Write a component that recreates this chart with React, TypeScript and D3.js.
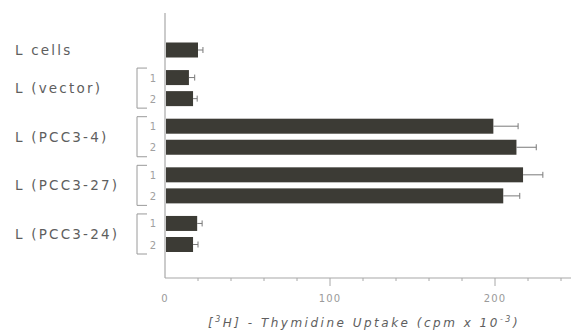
import React, { useRef, useEffect } from 'react';
import * as d3 from 'd3';

// categories (cell lines) and one bar per clone
const groupNames = ['L cells', 'L (vector)', 'L (PCC3-4)', 'L (PCC3-27)', 'L (PCC3-24)'];
const barGroup = [0, 1, 1, 2, 2, 3, 3, 4, 4];
const barClone = ['', '1', '2', '1', '2', '1', '2', '1', '2'];
// [3H]-thymidine uptake, cpm x 10^-3
const uptake = [20, 14.5, 17, 199, 213, 217, 205, 19.5, 17];
const uptakeErr = [3, 3.5, 2.5, 15, 12, 12, 10, 3, 3];
const majorTicks = [0, 100, 200];
const minorTicks = [20, 40, 60, 80, 120, 140, 160, 180, 220, 240];

const W = 571;
const H = 332;
const GAP = 0.31; // extra space between groups, in bar steps

const App = () => {
  const svgRef = useRef<SVGSVGElement>(null);

  useEffect(() => {
    if (!svgRef.current) return;
    const svg = d3.select(svgRef.current);
    svg.selectAll('*').remove();

    const x = d3.scaleLinear().domain([0, 200]).range([165, 495]);
    const slot = barGroup.map((g, i) => i + g * GAP);
    const y = d3.scaleLinear().domain([0, slot[slot.length - 1]]).range([50, 244.5]);
    const barH = 15;
    const axisY = 278;
    const gray = '#a8a8a8';
    const textCol = '#5e5e5e';
    const font = "'DejaVu Sans', sans-serif";

    // axes lines
    svg.append('line')
      .attr('x1', x(0)).attr('x2', x(0))
      .attr('y1', 13).attr('y2', axisY)
      .attr('stroke', gray).attr('stroke-width', 1.2);
    svg.append('line')
      .attr('x1', x(0)).attr('x2', W)
      .attr('y1', axisY).attr('y2', axisY)
      .attr('stroke', gray).attr('stroke-width', 1.2);

    // ticks
    svg.selectAll('line.minor').data(minorTicks).enter().append('line')
      .attr('class', 'minor')
      .attr('x1', d => x(d)).attr('x2', d => x(d))
      .attr('y1', axisY).attr('y2', axisY + 3)
      .attr('stroke', gray);
    svg.selectAll('line.major').data(majorTicks.filter(d => d > 0)).enter().append('line')
      .attr('class', 'major')
      .attr('x1', d => x(d)).attr('x2', d => x(d))
      .attr('y1', axisY).attr('y2', axisY + 8)
      .attr('stroke', gray);
    svg.selectAll('text.tick').data(majorTicks).enter().append('text')
      .attr('class', 'tick')
      .attr('x', d => x(d)).attr('y', 302)
      .attr('text-anchor', 'middle')
      .attr('font-family', font).attr('font-size', 10)
      .attr('letter-spacing', 1.2)
      .attr('fill', '#9a9a9a')
      .text(d => d);

    // axis title
    const title = svg.append('text')
      .attr('x', 364).attr('y', 327)
      .attr('text-anchor', 'middle')
      .attr('font-family', font).attr('font-size', 12)
      .attr('font-style', 'italic')
      .attr('letter-spacing', 2.5)
      .attr('fill', textCol);
    title.append('tspan').text('[');
    title.append('tspan').attr('dy', -5).attr('font-size', 8).text('3');
    title.append('tspan').attr('dy', 5).text('H] - Thymidine Uptake (cpm x 10');
    title.append('tspan').attr('dy', -5).attr('font-size', 8).text('-3');
    title.append('tspan').attr('dy', 5).text(')');

    // bars
    const bars = uptake.map((v, i) => ({ v, e: uptakeErr[i], yc: y(slot[i]), clone: barClone[i], g: barGroup[i] }));
    svg.selectAll('rect.bar').data(bars).enter().append('rect')
      .attr('class', 'bar')
      .attr('x', x(0) + 1)
      .attr('y', d => d.yc - barH / 2)
      .attr('width', d => x(d.v) - x(0) - 1)
      .attr('height', barH)
      .attr('fill', '#3c3b35');

    // error bars
    svg.selectAll('line.err').data(bars).enter().append('line')
      .attr('class', 'err')
      .attr('x1', d => x(d.v)).attr('x2', d => x(d.v + d.e))
      .attr('y1', d => d.yc).attr('y2', d => d.yc)
      .attr('stroke', '#7a7a7a');
    svg.selectAll('line.cap').data(bars).enter().append('line')
      .attr('class', 'cap')
      .attr('x1', d => x(d.v + d.e)).attr('x2', d => x(d.v + d.e))
      .attr('y1', d => d.yc - 3).attr('y2', d => d.yc + 3)
      .attr('stroke', '#7a7a7a');

    // group labels
    const groups = groupNames.map((name, gi) => {
      const ys = bars.filter(b => b.g === gi).map(b => b.yc);
      return { name, top: d3.min(ys)!, bottom: d3.max(ys)!, n: ys.length };
    });
    svg.selectAll('text.group').data(groups).enter().append('text')
      .attr('class', 'group')
      .attr('x', 15)
      .attr('y', d => (d.top + d.bottom) / 2 + 5)
      .attr('font-family', font).attr('font-size', 13.5)
      .attr('letter-spacing', 2.2)
      .attr('fill', textCol)
      .text(d => d.name);

    // brackets for the clones
    const bracketX = 137;
    svg.selectAll('path.bracket').data(groups.filter(d => d.n > 1)).enter().append('path')
      .attr('class', 'bracket')
      .attr('d', d => `M${bracketX + 10},${d.top - barH / 2 - 2}H${bracketX}V${d.bottom + barH / 2 + 2}H${bracketX + 10}`)
      .attr('fill', 'none')
      .attr('stroke', '#9a9a9a');
    svg.selectAll('text.clone').data(bars.filter(b => b.clone)).enter().append('text')
      .attr('class', 'clone')
      .attr('x', 153)
      .attr('y', d => d.yc + 4)
      .attr('text-anchor', 'middle')
      .attr('font-family', font).attr('font-size', 10)
      .attr('fill', '#a0a0a0')
      .text(d => d.clone);
  }, []);

  return (
    <svg ref={svgRef} width={W} height={H}
      style={{ position: 'absolute', left: 0, top: 0, background: '#fff' }} />
  );
};

export default App;
